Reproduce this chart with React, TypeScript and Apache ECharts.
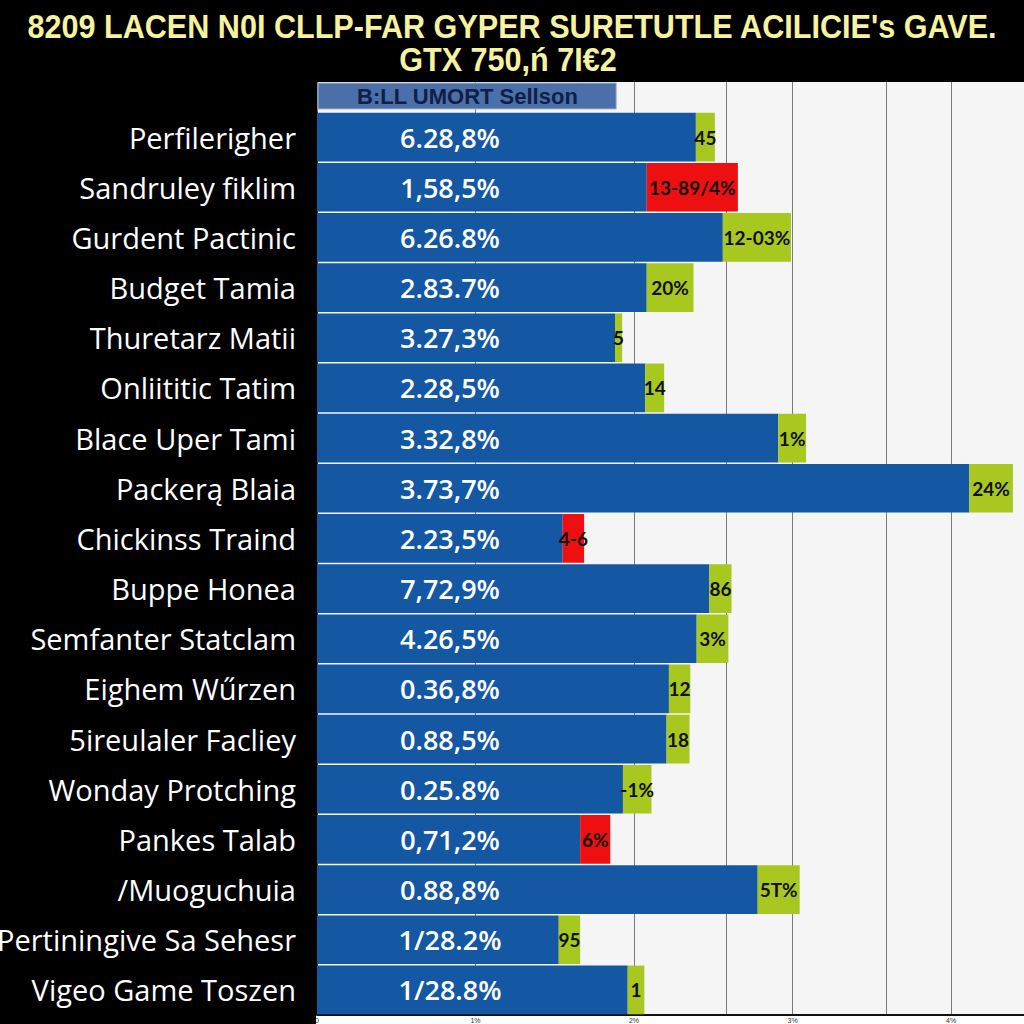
import React, { useEffect, useRef } from "react";
import * as echarts from "echarts";

const titleLines = [
  "8209 LACEN N0I CLLP-FAR GYPER SURETUTLE ACILICIE's GAVE.",
  "GTX 750,ń 7I€2",
];
const seriesName = "B:LL UMORT Sellson";
const categories = [
  "Perfilerigher",
  "Sandruley fiklim",
  "Gurdent Pactinic",
  "Budget Tamia",
  "Thuretarz Matii",
  "Onliititic Tatim",
  "Blace Uper Tami",
  "Packerą Blaia",
  "Chickinss Traind",
  "Buppe Honea",
  "Semfanter Statclam",
  "Eighem Wűrzen",
  "5ireulaler Facliey",
  "Wonday Protching",
  "Pankes Talab",
  "/Muoguchuia",
  "Pertiningive Sa Sehesr",
  "Vigeo Game Toszen",
];
const baseValues = [47.8, 41.6, 51.2, 41.6, 37.6, 41.4, 58.2, 82.3, 31.0, 49.5, 47.9, 44.4, 44.1, 38.6, 33.2, 55.6, 30.5, 39.2];
const baseLabels = [
  "6.28,8%", "1,58,5%", "6.26.8%", "2.83.7%", "3.27,3%", "2.28,5%", "3.32,8%", "3.73,7%", "2.23,5%",
  "7,72,9%", "4.26,5%", "0.36,8%", "0.88,5%", "0.25.8%", "0,71,2%", "0.88,8%", "1/28.2%", "1/28.8%",
];
const changeValues = [2.4, 11.5, 8.6, 5.9, 0.9, 2.4, 3.5, 5.5, 2.7, 2.8, 4.0, 2.7, 2.9, 3.6, 3.8, 5.3, 2.7, 2.1];
const changeDirection = [1, -1, 1, 1, 1, 1, 1, 1, -1, 1, 1, 1, 1, 1, -1, 1, 1, 1];
const changeLabels = ["45", "13-89/4%", "12-03%", "20%", "5", "14", "1%", "24%", "4-6", "86", "3%", "12", "18", "-1%", "6%", "5T%", "95", "1"];
const tickValues = [0, 20, 40, 60, 80];
const tickLabels = ["0", "1%", "2%", "3%", "4%"];
const gridLineValues = [0, 20, 40, 51.6, 60, 71.8, 80];
const axisMax = 89.2;

export default function App() {
  const ref = useRef<HTMLDivElement>(null);
  useEffect(() => {
    if (!ref.current) return;
    const chart = echarts.init(ref.current, undefined, { renderer: "svg" });
    const gain = changeValues.map((v, i) => (changeDirection[i] > 0 ? v : "-"));
    const loss = changeValues.map((v, i) => (changeDirection[i] < 0 ? v : "-"));
    const segLabel = {
      show: true,
      position: "inside",
      color: "#111",
      fontWeight: "bold",
      fontSize: 19,
      fontFamily: "Lato",
      formatter: (p: any) => changeLabels[p.dataIndex],
    };
    const xCommon = {
      type: "value",
      min: 0,
      max: axisMax,
      splitLine: { show: true, lineStyle: { color: "#7a7a7a", width: 1 } },
    };
    const titleStyle = {
      fill: "#f7f29e",
      fontSize: 34,
      fontWeight: "bold",
      fontFamily: '"Liberation Sans", Arial, sans-serif',
      align: "center",
      verticalAlign: "middle",
    };
    chart.setOption({
      animation: false,
      backgroundColor: "#000",
      legend: {
        data: [seriesName],
        left: 318,
        top: 83,
        itemWidth: 0,
        itemHeight: 0,
        icon: "rect",
        selectedMode: false,
        backgroundColor: "#4a6fa9",
        borderColor: "#a9b9d4",
        borderWidth: 1,
        borderRadius: 0,
        padding: [2, 38, 2, 34],
        textStyle: { color: "#0f1f48", fontWeight: "bold", fontSize: 22, fontFamily: '"Liberation Sans", Arial, sans-serif' },
      },
      graphic: [
        { type: "rect", left: 316, top: 1015, z: -10, shape: { width: 708, height: 9 }, style: { fill: "#ffffff" } },
        { type: "text", x: 512, y: 26, scaleX: 0.9, style: { ...titleStyle, text: titleLines[0] } },
        { type: "text", x: 508, y: 59, scaleX: 0.9, style: { ...titleStyle, text: titleLines[1] } },
      ],
      grid: [
        { left: 317, right: 0, top: 112, bottom: 9, show: true, backgroundColor: "#f5f5f5", borderWidth: 0, outerBoundsMode: "none", containLabel: false },
        { left: 317, right: 0, top: 82, height: 30, show: true, backgroundColor: "#f5f5f5", borderWidth: 0, outerBoundsMode: "none", containLabel: false },
      ],
      xAxis: [
        {
          ...xCommon,
          gridIndex: 0,
          axisLine: { show: true, lineStyle: { color: "#111", width: 2 } },
          axisTick: { show: false, customValues: gridLineValues },
          axisLabel: {
            customValues: tickValues,
            fontSize: 7,
            color: "#333",
            margin: 2,
            formatter: (v: number) => tickLabels[tickValues.indexOf(v)] ?? "",
          },
        },
        {
          ...xCommon,
          gridIndex: 1,
          axisLine: { show: false },
          axisTick: { show: false, customValues: gridLineValues },
          axisLabel: { show: false },
        },
      ],
      yAxis: [
        {
          gridIndex: 0,
          type: "category",
          data: categories,
          inverse: true,
          axisLine: { show: true, lineStyle: { color: "#1b2d55" } },
          axisTick: { show: false },
          axisLabel: { color: "#fff", fontSize: 29, fontFamily: '"Open Sans", sans-serif', margin: 21 },
          splitLine: { show: false },
        },
        {
          gridIndex: 1,
          type: "category",
          data: [""],
          axisLine: { show: false },
          axisTick: { show: false },
          axisLabel: { show: false },
        },
      ],
      series: [
        {
          name: seriesName,
          type: "bar",
          stack: "total",
          xAxisIndex: 0,
          yAxisIndex: 0,
          data: baseValues,
          barCategoryGap: "3%",
          itemStyle: { color: "#1457a3" },
          label: {
            show: true,
            position: [133, "50%"],
            align: "center",
            verticalAlign: "middle",
            color: "#fff",
            fontWeight: 600,
            fontSize: 27,
            fontFamily: '"Open Sans", sans-serif',
            formatter: (p: any) => baseLabels[p.dataIndex],
          },
        },
        {
          name: "gain",
          type: "bar",
          stack: "total",
          xAxisIndex: 0,
          yAxisIndex: 0,
          data: gain,
          itemStyle: { color: "#a8c820" },
          label: segLabel,
        },
        {
          name: "loss",
          type: "bar",
          stack: "total",
          xAxisIndex: 0,
          yAxisIndex: 0,
          data: loss,
          itemStyle: { color: "#ee1010" },
          label: segLabel,
        },
      ],
    });
    return () => chart.dispose();
  }, []);
  return (
    <div
      ref={ref}
      style={{ position: "absolute", left: 0, top: 0, width: 1024, height: 1024 }}
    />
  );
}
